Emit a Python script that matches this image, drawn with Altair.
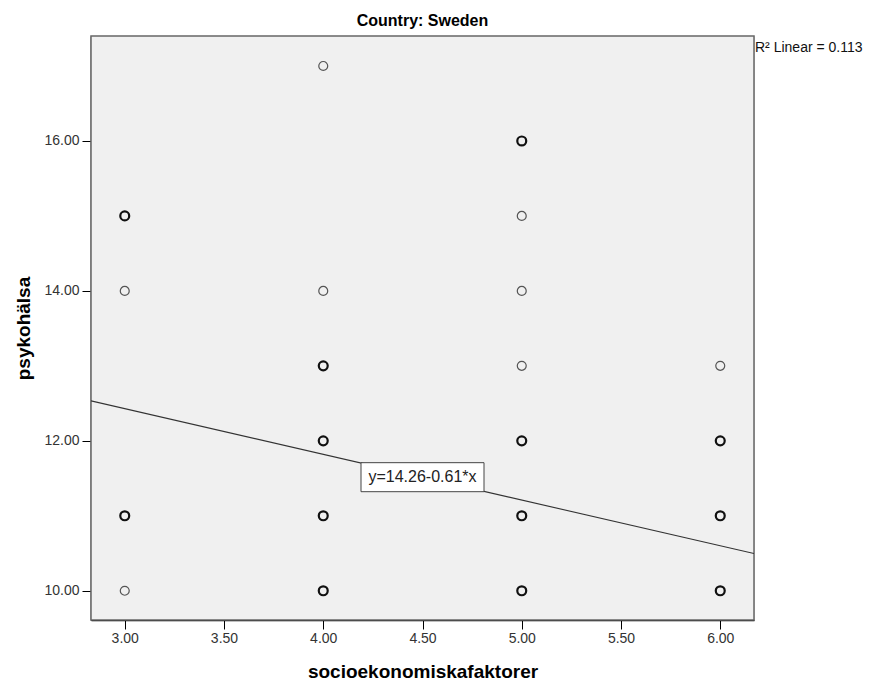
import altair as alt
import pandas as pd

# ---- data ----
x_vals = [3, 3, 3, 3, 4, 4, 4, 4, 4, 4, 5, 5, 5, 5, 5, 5, 5, 6, 6, 6, 6]
y_vals = [15, 14, 11, 10, 17, 14, 13, 12, 11, 10, 16, 15, 14, 13, 12, 11, 10, 13, 12, 11, 10]
counts = [2, 1, 2, 1, 1, 1, 2, 2, 3, 2, 2, 1, 1, 1, 3, 2, 3, 1, 2, 2, 3]

intercept = 14.26
slope = -0.61
r2_text = "R\u00b2 Linear = 0.113"
eq_text = "y=14.26-0.61*x"
title_text = "Country: Sweden"

x_ticks = [3.0, 3.5, 4.0, 4.5, 5.0, 5.5, 6.0]
y_ticks = [10.0, 12.0, 14.0, 16.0]
x_domain = [2.83, 6.17]
y_domain = [9.61, 17.40]

FONT = "Liberation Sans"
W, H = 663, 584

pts = pd.DataFrame({"x": x_vals, "y": y_vals, "n": counts})
pts["multi"] = pts["n"].apply(lambda v: "multi" if v > 1 else "single")

line_df = pd.DataFrame({"x": x_domain, "y": [intercept + slope * v for v in x_domain]})
xm = (x_domain[0] + x_domain[1]) / 2
eq_df = pd.DataFrame({"x": [xm], "y": [intercept + slope * xm], "t": [eq_text]})

xs = alt.Scale(domain=x_domain, nice=False, zero=False)
ys = alt.Scale(domain=y_domain, nice=False, zero=False)

x_axis = alt.Axis(values=x_ticks, format=".2f", grid=False, tickSize=9, tickColor="#000",
                  domainColor="#000", domainWidth=1.5, labelFont=FONT, labelFontSize=14,
                  labelColor="#333", labelPadding=2, title="socioekonomiskafaktorer",
                  titleFont=FONT, titleFontSize=19, titleFontWeight="bold", titleColor="#000",
                  titleY=51, titleX=W / 2, titleBaseline="middle", titleAlign="center")
y_axis = alt.Axis(values=y_ticks, format=".2f", grid=False, tickSize=9, tickColor="#000",
                  domainColor="#000", domainWidth=1.5, labelFont=FONT, labelFontSize=14,
                  labelColor="#333", labelPadding=3, title="psykohälsa",
                  titleFont=FONT, titleFontSize=19, titleFontWeight="bold", titleColor="#000",
                  titleX=-68, titleY=H / 2, titleAngle=-90, titleBaseline="middle",
                  titleAlign="center")

bg = alt.Chart(pd.DataFrame({"k": [0]})).mark_rect(
    fill="#f0f0f0", stroke="#666666", strokeWidth=1.5
).encode(x=alt.value(0), x2=alt.value(W), y=alt.value(0), y2=alt.value(H))

points = alt.Chart(pts).mark_point(shape="circle", size=80, filled=False, opacity=1).encode(
    x=alt.X("x:Q", scale=xs, axis=x_axis),
    y=alt.Y("y:Q", scale=ys, axis=y_axis),
    stroke=alt.Stroke("multi:N", scale=alt.Scale(domain=["single", "multi"], range=["#555555", "#111111"]), legend=None),
    strokeWidth=alt.StrokeWidth("multi:N", scale=alt.Scale(domain=["single", "multi"], range=[1.2, 2.2]), legend=None),
)

reg = alt.Chart(line_df).mark_line(color="#333333", strokeWidth=1.1, clip=True).encode(
    x=alt.X("x:Q", scale=xs), y=alt.Y("y:Q", scale=ys)
)

box = alt.Chart(eq_df).mark_point(
    shape="M-1,-0.236L1,-0.236L1,0.236L-1,0.236Z", size=123 * 123, filled=True,
    fill="white", stroke="#444444", strokeWidth=1, opacity=1, fillOpacity=1
).encode(x=alt.X("x:Q", scale=xs), y=alt.Y("y:Q", scale=ys))

eq = alt.Chart(eq_df).mark_text(font=FONT, fontSize=16, color="#222222", align="center",
                                baseline="middle").encode(
    x=alt.X("x:Q", scale=xs), y=alt.Y("y:Q", scale=ys), text="t:N"
)

r2 = alt.Chart(pd.DataFrame({"t": [r2_text]})).mark_text(
    font=FONT, fontSize=14, color="#111111", align="left", baseline="middle"
).encode(x=alt.value(W + 1), y=alt.value(12), text="t:N")

title = alt.Chart(pd.DataFrame({"t": [title_text]})).mark_text(
    font=FONT, fontSize=16, fontWeight="bold", color="#000000", align="center", baseline="middle"
).encode(x=alt.value(W / 2), y=alt.value(-15), text="t:N")

chart = alt.layer(bg, reg, points, box, eq, r2, title).properties(
    width=W, height=H,
    autosize=alt.AutoSizeParams(type="none"),
    padding={"left": 83, "top": 28, "right": 110, "bottom": 64},
).configure_view(stroke=None).configure(background="white")

chart.save("out.html", embed_options={"renderer": "svg", "actions": False})
